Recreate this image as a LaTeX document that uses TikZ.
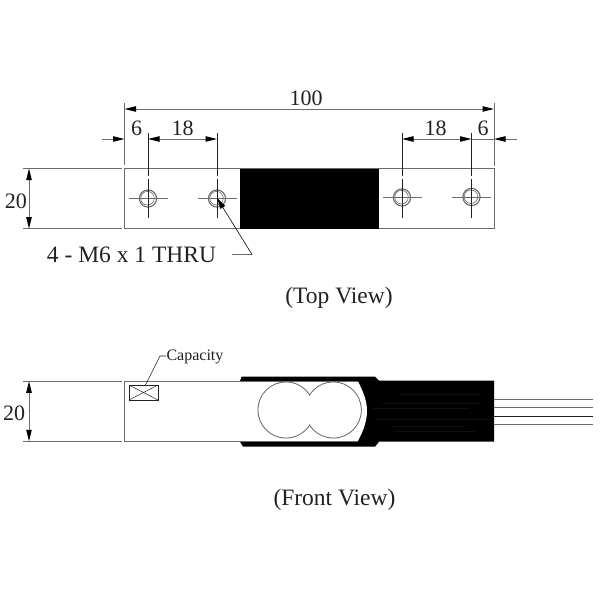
\documentclass[tikz,border=0pt]{standalone}
\usepackage{fontspec}
\setmainfont{Liberation Serif}
\usetikzlibrary{arrows.meta}
\definecolor{ln}{gray}{0.42}
\definecolor{ink}{gray}{0.13}
\tikzset{
  x=1pt,y=-1pt,
  thin line/.style={draw=ln,line width=1pt},
  dark line/.style={draw=ink,line width=0.9pt},
  dim/.style={draw=ln,line width=1pt,arrows={-Triangle[length=11.5pt,width=5.4pt,black]}},
  dimb/.style={draw=ln,line width=1pt,arrows={Triangle[length=11.5pt,width=5.4pt,black]-Triangle[length=11.5pt,width=5.4pt,black]}},
  lbl/.style={inner sep=0pt,text=ink,font=\fontsize{22}{22}\selectfont},
  view/.style={inner sep=0pt,text=ink,font=\fontsize{23.5}{24}\selectfont},
}
\begin{document}
\begin{tikzpicture}
\useasboundingbox (0,0) rectangle (600,600);
% reference points
\coordinate (TL) at (124.5,168.5); \coordinate (BR) at (494,228.7);
% ---------- top view ----------
\draw[thin line] (TL) rectangle (BR);
\fill[black] (240,168.5) rectangle (379,228.7);
\draw[thin line] (23,168.5) -- (122,168.5);
\draw[thin line] (23,228.7) -- (122,228.7);
\draw[dimb] (29,168.5) -- (29,228.7);
\node[lbl] (t20) at (16,201) {20};
\draw[thin line] (124.5,103) -- (124.5,165);
\draw[thin line] (494,103) -- (494,166);
\draw[dimb] (124.5,109) -- (494,109);
\node[lbl] (t100) at (306,98) {100};
\draw[dim] (102,139) -- (124.5,139);
\draw[dimb] (148,139) -- (217,139);
\draw[dimb] (402,139) -- (471.5,139);
\draw[thin line] (471.5,139) -- (494,139);
\draw[dim] (517,139) -- (494,139);
\node[lbl] (t6a) at (136.5,128) {6};
\node[lbl] (t18a) at (182.5,128) {18};
\node[lbl] (t18b) at (435.5,128) {18};
\node[lbl] (t6b) at (483,128) {6};
% holes
\foreach \x/\y/\n in {148/198.5/a,217/198.5/b,402/197.5/c,471.5/197/d}{
  \draw[draw=ln,line width=1.1pt] (\x,\y) circle (8.6);
  \draw[draw=ln,line width=0.6pt] (\x-0.5,\y-0.3) circle (6.8);
  \draw[thin line] (\x-19.5,\y) -- (\x+19.5,\y);
  \draw[dark line] (\x,133) -- (\x,176);
  \draw[dark line] (\x,179) -- (\x,217.5);
}
% hole note
\node[view] (note) at (131.5,255) {4 - M6 x 1 THRU};
\coordinate (k) at (252,254.5);
\draw[thin line] (232,254.5) -- (k);
\draw[draw=ink,line width=0.7pt,arrows={-Triangle[length=11pt,width=5.4pt,black]}] (k) -- (217,198);
\node[view] (topv) at (339,298) {(Top View)};
% ---------- front view ----------
\draw[thin line] (23,381.3) -- (122,381.3);
\draw[thin line] (23,441.3) -- (122,441.3);
\draw[dimb] (29,381.3) -- (29,441.3);
\node[lbl] (f20) at (14,413) {20};
% body
\fill[black] (240,381) -- (241.7,376.5) -- (375,376.5) -- (379,380.7) -- (494,380.7) -- (494,441.7)
  -- (379,441.7) -- (375,446.7) -- (243,446.7) -- (240,441.7) -- cycle;
\fill[white] (238,381.5) -- (358,381.5) .. controls (364,393) and (367,402) .. (367,411)
  .. controls (367,420) and (364,430) .. (358,440.8) -- (238,440.8) -- cycle;
\draw[thin line] (240,381.3) -- (124.5,381.3) -- (124.5,441.3) -- (240,441.3);
\draw[thin line] (240,381.5) -- (358,381.5);
\draw[thin line] (240,441) -- (358,441);
% double-bore outline: two stroked circles, their inner parts covered in white
\draw[draw=ln,line width=1pt] (286,410) circle (28);
\draw[draw=ln,line width=1pt] (333.3,410) circle (28);
\fill[white] (286,410) circle (27.4);
\fill[white] (333.3,410) circle (27.4);
% sleeve texture
\foreach \a/\b/\c in {382/480/403,372/470/408,376/490/419,390/465/426,400/480/394,395/475/431}{
  \draw[draw=black!94,line width=0.5pt] (\a,\c) -- (\b,\c);
}
% wires
\foreach \y/\g in {399/ln,407.7/ln,416.3/ink,424.7/ln}{
  \draw[draw=\g,line width=1pt] (494,\y) -- (593,\y);
}
% capacity
\draw[draw=ink,line width=0.8pt] (129,385) rectangle (158,400);
\draw[draw=ink,line width=0.5pt] (129,385) -- (158,400);
\draw[draw=ink,line width=0.5pt] (129,400) -- (158,385);
\node[inner sep=0pt,text=ink,font=\fontsize{16}{16}\selectfont] (cap) at (195,357) {Capacity};
\coordinate (capk) at (160,356);
\draw[draw=ink,line width=0.6pt] (145,386) -- (capk) -- (166,356);
\node[view] (frontv) at (334.5,500) {(Front View)};
\end{tikzpicture}
\end{document}
